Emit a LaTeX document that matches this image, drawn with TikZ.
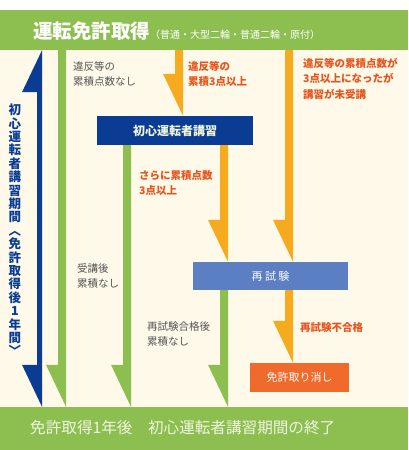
\documentclass[tikz,border=0pt]{standalone}
\usepackage{fontspec}
\setmainfont{Noto Sans CJK JP}
\usetikzlibrary{calc, positioning}
\definecolor{bandgreen}{RGB}{141, 191, 80}
\definecolor{creambg}{RGB}{254, 249, 232}
\definecolor{arrorange}{RGB}{246, 170, 30}
\definecolor{noteorange}{RGB}{232, 84, 30}
\definecolor{navyblue}{RGB}{10, 60, 148}
\definecolor{testblue}{RGB}{92, 126, 194}
\definecolor{cancelorange}{RGB}{240, 106, 44}
\definecolor{notegray}{RGB}{85, 85, 85}
\definecolor{paletext}{RGB}{240, 245, 224}

% colour, bar width, from, to (one-sided head at the lower end)
\newcommand{\halfarrow}[4]{%
  \fill[#1] let \p1=(#3), \p2=(#4) in
    ({\x2-#2}, \y1) -- (\x2, \y1) -- (\x2, \y2) -- ({\x2-20pt}, {\y2+42pt})
    -- ({\x2-#2}, {\y2+42pt}) -- cycle;}

\begin{document}
\begin{tikzpicture}[x=1pt, y=-1pt,
  band/.style={fill=bandgreen, minimum width=408pt, inner sep=0pt},
  box/.style={minimum height=29pt, inner sep=0pt, text=white, font=\fontsize{11}{13}\selectfont},
  note/.style={anchor=north west, inner sep=0pt, align=left, text=notegray,
               font=\fontsize{10.5}{15}\selectfont},
  warn/.style={note, text=noteorange, font=\bfseries\fontsize{10.5}{15.5}\selectfont}
]
  \useasboundingbox (0,0) rectangle (408,450);
  \fill[white] (0,0) rectangle (408,450);
  \fill[creambg] (0,50) rectangle (408,407);

  % bands
  \node[band, minimum height=40pt] (top) at (204,30) {};
  \node[band, minimum height=43pt] (bottom) at (204,428.5) {};
  \node[anchor=west, inner sep=0pt, text=white] (title) at (33,31)
    {\bfseries\fontsize{19.5}{21}\selectfont 運転免許取得\mdseries\fontsize{10}{11}\selectfont （普通・大型二輪・普通二輪・原付）};
  \node[anchor=west, inner sep=0pt, text=paletext, font=\fontsize{15.6}{17}\selectfont] (endtxt) at (30,428)
    {免許取得1年後　初心運転者講習期間の終了};

  % column edges
  \coordinate (colA) at (42,0);
  \coordinate (colB) at (66,0);
  \coordinate (colC) at (131,0);
  \coordinate (colD) at (183,0);
  \coordinate (colE) at (228,0);
  \coordinate (colF) at (293,0);

  % boxes
  \node[box, fill=navyblue, minimum width=156pt, text=paletext,
        font=\bfseries\fontsize{12}{14}\selectfont] (lecture) at (175,130.5) {初心運転者講習};
  \node[box, fill=testblue, minimum width=155pt, minimum height=28pt] (retest) at (270.5,276) {再 試 験};
  \node[box, fill=cancelorange, minimum width=99pt] (cancel) at (299.5,377.5) {免許取り消し};

  % period arrow
  \fill[navyblue] let \p1=(top.south -| colA), \p2=(bottom.north -| colA) in
    (\x1, \y1) -- (\x2, \y2) -- ({\x2-20pt}, {\y2+42pt}) -- ({\x2-5pt}, {\y2+42pt})
    -- ({\x1-5pt}, {\y1-42pt}) -- ({\x1-20pt}, {\y1-42pt}) -- cycle;
  \node[inner sep=0pt, align=center, text=navyblue,
        font=\bfseries\fontsize{12.5}{13.4}\selectfont] (period) at (15,230)
    {初\\心\\運\\転\\者\\講\\習\\期\\間\\︿\\免\\許\\取\\得\\後\\1\\年\\間\\﹀};

  % flow arrows
  \halfarrow{bandgreen}{8pt}{top.south -| colB}{bottom.north -| colB}
  \halfarrow{arrorange}{8pt}{top.south -| colD}{lecture.north -| colD}
  \halfarrow{arrorange}{8pt}{top.south -| colF}{retest.north -| colF}
  \halfarrow{bandgreen}{8pt}{lecture.south -| colC}{bottom.north -| colC}
  \halfarrow{arrorange}{8pt}{lecture.south -| colE}{retest.north -| colE}
  \halfarrow{bandgreen}{8pt}{retest.south -| colE}{bottom.north -| colE}
  \halfarrow{arrorange}{8pt}{retest.south -| colF}{cancel.north -| colF}

  % notes
  \node[note] (none) at (73,61) {違反等の\\累積点数なし};
  \node[warn] (three) at (188,61) {違反等の\\累積3点以上};
  \node[warn] (skip) at (303,58) {違反等の累積点数が\\3点以上になったが\\講習が未受講};
  \node[warn] (more) at (139,170) {さらに累積点数\\3点以上};
  \node[note] (taken) at (77,263) {受講後\\累積なし};
  \node[note] (passed) at (147,321) {再試験合格後\\累積なし};
  \node[warn, anchor=west] (failed) at (300,328) {再試験不合格};
\end{tikzpicture}
\end{document}
